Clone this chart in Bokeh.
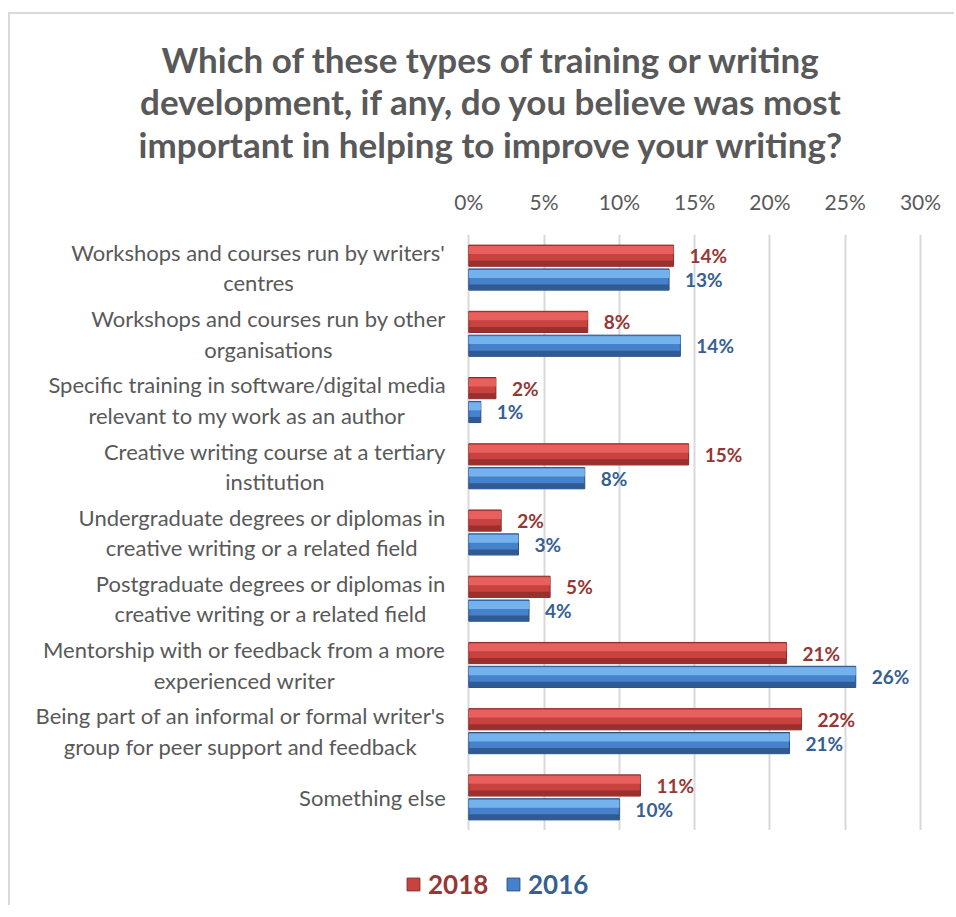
from bokeh.plotting import figure
from bokeh.layouts import column
from bokeh.models import (FactorRange, Range1d, FixedTicker, Label, Legend,
                          LegendItem, ColumnDataSource)
from bokeh.transform import dodge
from bokeh.embed import file_html
from bokeh.resources import INLINE
from bokeh.core.properties import value

# ---------------- data ----------------
categories = [
    "Workshops and courses run by writers'\ncentres",
    "Workshops and courses run by other\norganisations",
    "Specific training in software/digital media\nrelevant to my work as an author",
    "Creative writing course at a tertiary\ninstitution",
    "Undergraduate degrees or diplomas in\ncreative writing or a related field",
    "Postgraduate degrees or diplomas in\ncreative writing or a related field",
    "Mentorship with or feedback from a more\nexperienced writer",
    "Being part of an informal or formal writer's\ngroup for peer support and feedback",
    "Something else",
]
values_2018 = [13.6, 7.9, 1.8, 14.6, 2.15, 5.4, 21.1, 22.1, 11.4]
values_2016 = [13.3, 14.05, 0.8, 7.7, 3.3, 4.0, 25.7, 21.3, 10.0]
series_names = ["2018", "2016"]
x_ticks = [0, 5, 10, 15, 20, 25, 30]
x_tick_labels = ["0%", "5%", "10%", "15%", "20%", "25%", "30%"]
title_lines = [
    "Which of these types of training or writing",
    "development, if any, do you believe was most",
    "important in helping to improve your writing?",
]

# ---------------- styles / layout ----------------
FONT = "Lato"
GREY = "#595959"
BORDER = "#D9D9D9"
RED_MID, RED_LIGHT, RED_DARK, RED_EDGE, RED_TEXT = "#C8423F", "#E8605D", "#9B2F2D", "#8A2A28", "#953735"
BLUE_MID, BLUE_LIGHT, BLUE_DARK, BLUE_EDGE, BLUE_TEXT = "#4682CC", "#74B2EE", "#2F5A94", "#2A4F82", "#376092"

OX, OY = 10, 14         # content origin on the page (after border)
W = 944                 # width of every strip (px)
TITLE_H = 161           # height of the title strip (px)
ZERO_PX = 468.3 - OX    # 0% line inside the strips
PX_PER_UNIT = (920.0 - 468.3) / 30.0
x_start = -ZERO_PX / PX_PER_UNIT
x_end = x_start + W / PX_PER_UNIT

def bare(fig):
    fig.outline_line_color = None
    fig.xgrid.grid_line_color = None
    fig.ygrid.grid_line_color = None

# ---------------- title strip ----------------
tf = figure(x_range=Range1d(0, W), y_range=Range1d(0, TITLE_H),
            x_axis_location=None, y_axis_location=None,
            frame_width=W, frame_height=TITLE_H, min_border=0,
            output_backend="svg", toolbar_location=None)
bare(tf)
for i, line in enumerate(title_lines):
    tf.add_layout(Label(x=491 - OX, y=TITLE_H - (58 - OY) - 42.5 * i, text=line,
                        text_align="center", text_baseline="middle",
                        text_font=FONT, text_font_style="bold",
                        text_font_size="35px", text_color=GREY))

# ---------------- main chart ----------------
src = ColumnDataSource(dict(
    cat=categories,
    v2018=values_2018,
    v2016=values_2016,
    lab2018=[f"{round(v)}%" for v in values_2018],
    lab2016=[f"{round(v)}%" for v in values_2016],
))

p = figure(
    y_range=FactorRange(factors=list(reversed(categories))),
    x_range=Range1d(x_start, x_end),
    x_axis_location="above", y_axis_location=None,
    frame_width=W, frame_height=596,
    min_border_left=0, min_border_right=0,
    min_border_top=234 - OY - TITLE_H, min_border_bottom=0,
    output_backend="svg", toolbar_location=None,
)
p.outline_line_color = None

xa = p.xaxis[0]
xa.ticker = FixedTicker(ticks=x_ticks)
xa.major_label_overrides = {t: l for t, l in zip(x_ticks, x_tick_labels)}
xa.axis_line_color = None
xa.major_tick_line_color = None
xa.minor_tick_line_color = None
xa.major_label_text_font = FONT
xa.major_label_text_font_size = "21px"
xa.major_label_text_color = GREY
xa.major_label_standoff = 15

p.xgrid.grid_line_color = "#D9D9D9"
p.xgrid.grid_line_width = 2
p.ygrid.grid_line_color = None

# category labels
p.text(x=0, y="cat", text="cat", source=src, x_offset=-23,
       anchor=value("center_right"), text_align="center", text_baseline="middle",
       text_font=value(FONT), text_font_size="22px", text_color=GREY,
       text_line_height=1.13)

# bars with bevel look
OFF = 0.18
H = 0.32
for col, off, mid, light, dark, edge in [
    ("v2018", OFF, RED_MID, RED_LIGHT, RED_DARK, RED_EDGE),
    ("v2016", -OFF, BLUE_MID, BLUE_LIGHT, BLUE_DARK, BLUE_EDGE),
]:
    p.hbar(y=dodge("cat", off, range=p.y_range), left=0, right=col, height=H,
           fill_color=mid, line_color=edge, line_width=1, source=src)
    p.hbar(y=dodge("cat", off + 0.085, range=p.y_range), left=0, right=col, height=0.12,
           fill_color=light, line_color=None, source=src)
    p.hbar(y=dodge("cat", off - 0.115, range=p.y_range), left=0, right=col, height=0.08,
           fill_color=dark, line_color=None, source=src)

# data labels
for col, lab, off, tcol in [("v2018", "lab2018", OFF, RED_TEXT),
                            ("v2016", "lab2016", -OFF, BLUE_TEXT)]:
    p.text(x=col, y=dodge("cat", off, range=p.y_range), text=lab, source=src,
           x_offset=16, text_baseline="middle", text_align="left",
           text_font=value(FONT), text_font_style="bold", text_font_size="19px",
           text_color=tcol)

# ---------------- legend strip ----------------
lg_fig = figure(
    x_range=Range1d(0, W), y_range=Range1d(0, 1),
    x_axis_location=None, y_axis_location=None,
    frame_width=W, frame_height=75, min_border=0,
    output_backend="svg", toolbar_location=None,
)
bare(lg_fig)

for name, mid, edge, tcol, xloc in [
    (series_names[0], RED_MID, RED_EDGE, RED_TEXT, 405 - OX),
    (series_names[1], BLUE_MID, BLUE_EDGE, BLUE_TEXT, 505 - OX),
]:
    # legend swatch only: the glyph sits outside the visible range
    r = lg_fig.hbar(y=[-5], left=[0], right=[1], height=0.1,
                    fill_color=mid, line_color=edge)
    lg = Legend(items=[LegendItem(label=name, renderers=[r])],
                location=(xloc, 5), orientation="horizontal",
                padding=0, margin=0, spacing=0,
                glyph_width=16, glyph_height=16, label_standoff=7,
                label_text_font=FONT, label_text_font_style="bold",
                label_text_font_size="26px", label_text_color=tcol,
                border_line_color=None, background_fill_alpha=0)
    lg_fig.add_layout(lg, "center")

layout = column(tf, p, lg_fig, spacing=0,
                styles={"border-left": f"2px solid {BORDER}",
                        "border-top": f"2px solid {BORDER}",
                        "border-right": "none", "border-bottom": "none",
                        "margin-left": "8px", "margin-top": "12px"})
open("out.html", "w").write(file_html(layout, INLINE))
